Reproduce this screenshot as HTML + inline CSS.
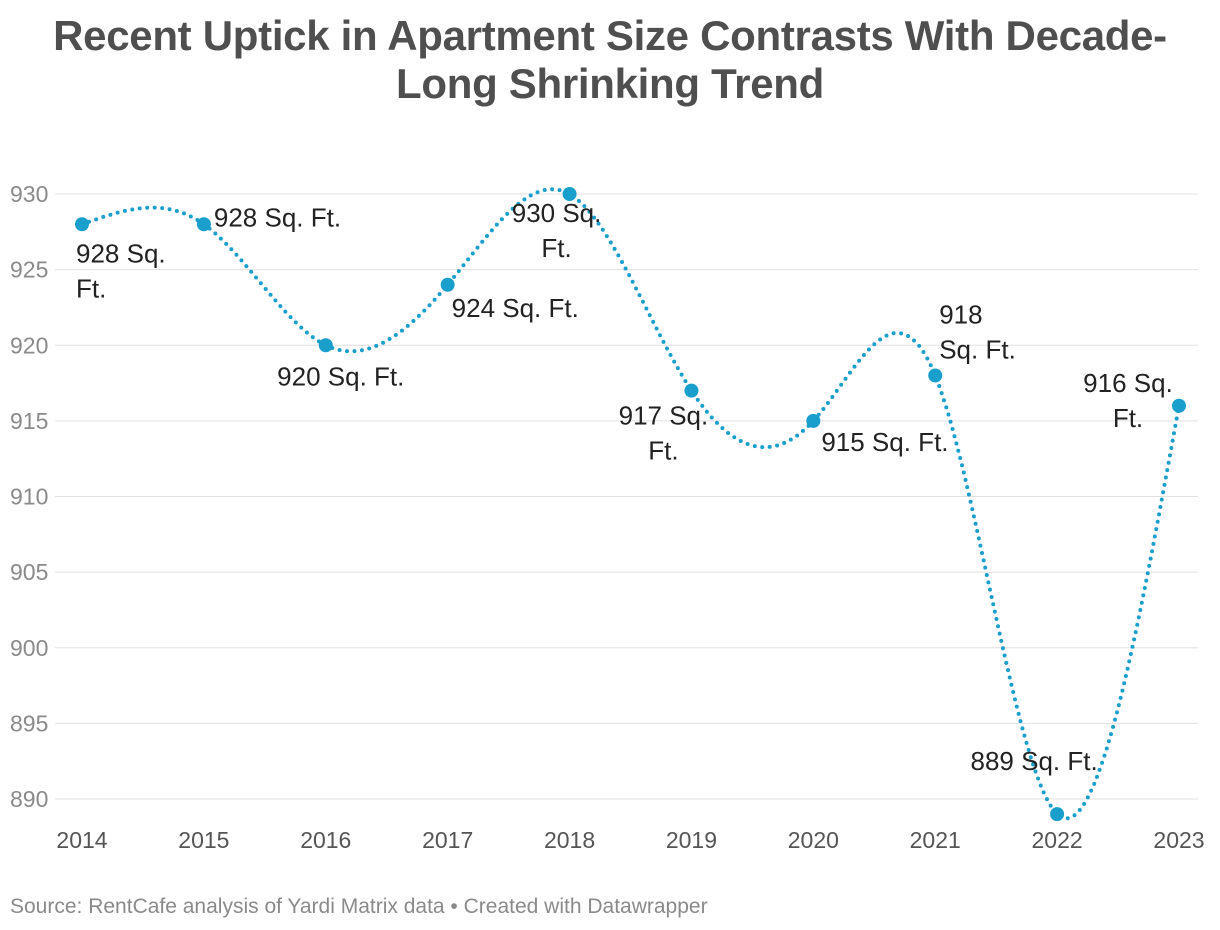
<!DOCTYPE html>
<html><head><meta charset="utf-8">
<style>
body{margin:0;background:#fff;width:1220px;height:930px;overflow:hidden;font-family:"Liberation Sans",sans-serif;}
h1{position:absolute;left:0;top:12px;width:1220px;margin:0;text-align:center;font-size:42px;line-height:48px;font-weight:bold;color:#4f4f4f;letter-spacing:-0.3px}
.src{position:absolute;left:10px;top:895px;font-size:21px;color:#8a8a8a}
svg{position:absolute;left:0;top:0}
</style></head><body>
<h1>Recent Uptick in Apartment Size Contrasts With Decade-<br>Long Shrinking Trend</h1>
<svg id="c" width="1220" height="930"></svg>
<div class="src">Source: RentCafe analysis of Yardi Matrix data • Created with Datawrapper</div>
<script>
const years=[2014,2015,2016,2017,2018,2019,2020,2021,2022,2023];
const values=[928,928,920,924,930,917,915,918,889,916];
const yTicks=[930,925,920,915,910,905,900,895,890];
const labels=["928 Sq.\nFt.","928 Sq. Ft.","920 Sq. Ft.","924 Sq. Ft.","930 Sq.\nFt.","917 Sq.\nFt.","915 Sq. Ft.","918\nSq. Ft.","889 Sq. Ft.","916 Sq.\nFt."];
const labelOff=[[-6,38,'start'],[10,2,'start'],[15,40,'middle'],[4,32,'start'],[-13,28,'middle'],[-28,34,'middle'],[8,30,'start'],[4,-52,'start'],[-23,-44,'middle'],[-51,-14,'middle']];
const NS="http://www.w3.org/2000/svg",svg=document.getElementById('c');
const x=i=>82+i*(1179-82)/(years.length-1);
const y=v=>194+(930-v)*(799-194)/40;
function mk(t,a,p){const e=document.createElementNS(NS,t);for(const k in a)e.setAttribute(k,a[k]);(p||svg).appendChild(e);return e;}
yTicks.forEach(t=>{
 const l=mk('line',{x1:55,x2:1198,y1:y(t),y2:y(t),stroke:'#e0e0e0','stroke-width':1});
 
 
 const tx=mk('text',{x:10,y:y(t)+8,'font-size':23,fill:'#8a8a8a'});tx.textContent=t;
 
 
});
years.forEach((yr,i)=>{
 const tx=mk('text',{x:x(i),y:848,'font-size':23,fill:'#555','text-anchor':'middle'});tx.textContent=yr;
 
 
});
const n=values.length,X=values.map((v,i)=>x(i)),Y=values.map(v=>y(v));
const M=new Array(n).fill(0);
{const h=X[1]-X[0],a=[],b=[],c=[],d=[];
 for(let i=1;i<n-1;i++){a.push(1);b.push(4);c.push(1);d.push(6*(Y[i+1]-2*Y[i]+Y[i-1])/(h*h));}
 const m=d.length;for(let i=1;i<m;i++){const w=a[i]/b[i-1];b[i]-=w*c[i-1];d[i]-=w*d[i-1];}
 const s=new Array(m);s[m-1]=d[m-1]/b[m-1];for(let i=m-2;i>=0;i--)s[i]=(d[i]-c[i]*s[i+1])/b[i];
 for(let i=0;i<m;i++)M[i+1]=s[i];}
let p='';const h=X[1]-X[0];
for(let i=0;i<n-1;i++){for(let k=0;k<=30;k++){const t=k/30,xx=X[i]+t*h,A=1-t,B=t;
 const yy=A*Y[i]+B*Y[i+1]+((A*A*A-A)*M[i]+(B*B*B-B)*M[i+1])*h*h/6;
 p+=(p?'L':'M')+xx.toFixed(1)+','+yy.toFixed(1);}}
const ln=mk('path',{d:p,fill:'none',stroke:'#1a9fcc','stroke-width':4,'stroke-linecap':'round','stroke-dasharray':'0 7.5'});


values.forEach((v,i)=>{
 const c=mk('circle',{cx:x(i),cy:y(v),r:7,fill:'#1a9fcc'});
 
 
 const o=labelOff[i];
 const tx=mk('text',{x:x(i)+o[0],y:y(v)+o[1],'font-size':26,fill:'#222','text-anchor':o[2]});
 
 
 labels[i].split('\n').forEach((s,j)=>{const ts=mk('tspan',{x:x(i)+o[0],dy:j?35:0},tx);ts.textContent=s;});
});
</script>
</body></html>
